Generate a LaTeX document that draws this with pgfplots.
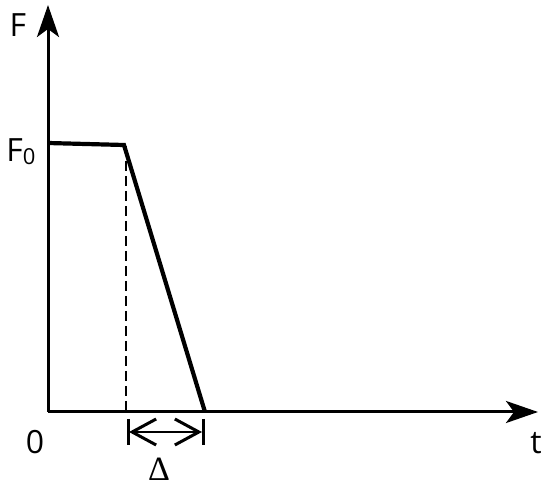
\documentclass[border=0pt]{standalone}
\usepackage{pgfplots}
\pgfplotsset{compat=1.18}
\usetikzlibrary{arrows.meta}
\usepackage{fontspec}
\setmainfont{Open Sans}
\newfontfamily\deltafont{Liberation Serif}
\newcommand\labelsize{\fontsize{32}{34}\selectfont}
\begin{document}
\begin{tikzpicture}
\begin{axis}[
  x=1pt, y=1pt,
  xmin=0, xmax=490, ymin=0, ymax=407,
  axis lines=left,
  axis line style={line width=3pt,-{Stealth[length=32pt,width=22pt,inset=8pt]}},
  xtick=\empty, ytick=\empty,
  clip=false
]
% invisible frame points to set the page size
\addplot[draw=none] coordinates {(-48,-76) (502,412)};
% force profile
\addplot[black, line width=4.2pt, line join=miter] coordinates {(0,269) (76,267) (157,0)};
% dashed drop line
\addplot[black, line width=2.4pt, dash pattern=on 10pt off 5pt] coordinates {(78,266) (78,0)};
% Delta span
\addplot[black, line width=2pt, {Straight Barb[length=24pt,width=26pt,line width=3pt]}-{Straight Barb[length=24pt,width=26pt,line width=3pt]}] coordinates {(81,-20) (154,-20)};
\addplot[black, line width=3pt] coordinates {(80,-7) (80,-33)};
\addplot[black, line width=3pt] coordinates {(155,-7) (155,-33)};
\node[font=\labelsize] at (axis cs:-30,387) {F};
\node[font=\labelsize] at (axis cs:-27,260) {F\raisebox{-3pt}{\fontsize{22}{22}\selectfont 0}};
\node[font=\labelsize] at (axis cs:-13,-30) {0};
\node[font=\labelsize] at (axis cs:488,-31) {t};
\node[inner sep=0pt] at (axis cs:111,-57) {\deltafont\fontsize{34}{36}\selectfont Δ};
\end{axis}
\end{tikzpicture}
\end{document}
